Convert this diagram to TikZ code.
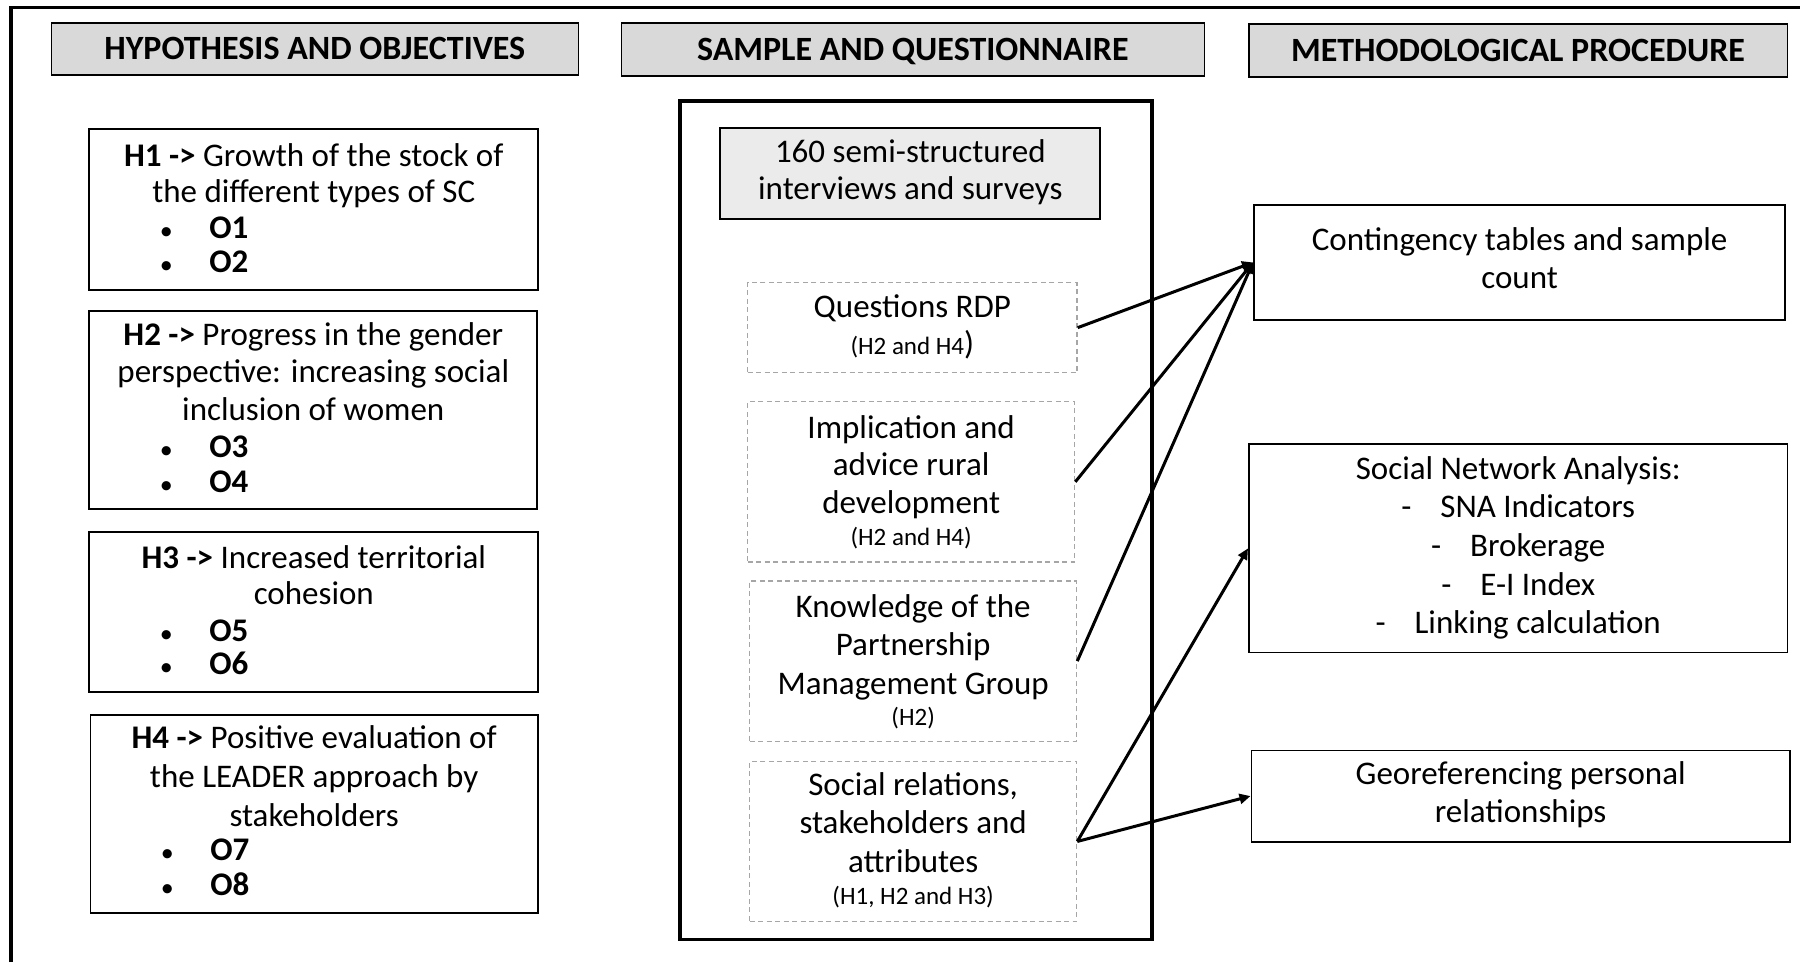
\documentclass[tikz,border=0pt]{standalone}
\usepackage{fontspec}
\setmainfont{Carlito}
\usetikzlibrary{arrows.meta}

\definecolor{hdrgray}{HTML}{D9D9D9}
\definecolor{boxgray}{HTML}{EBEBEB}
\definecolor{dashgray}{HTML}{A6A6A6}

% vertical struts fixing the first baseline and the space under the last line
\newcommand\topgap[1]{\rule{0pt}{#1}}
\newcommand\botgap[1]{\rule[-#1]{0pt}{0pt}}
% bulleted objective line, left aligned inside a centred box
\newcommand\objline[1]{\makebox[\linewidth][l]{\hspace*{77pt}\makebox[0pt]{\raisebox{-1pt}{\fontsize{26}{26}\selectfont\textbullet}}\hspace*{43pt}\textbf{#1}}}
% indented item of the network analysis list
\newcommand\snaline[1]{-\hspace{29pt}#1}
% smaller type for the hypothesis references
\newcommand\hsmall{\fontsize{25}{27}\selectfont}

\begin{document}
\setlength{\lineskiplimit}{-100pt}
\begin{tikzpicture}[
  x=1pt, y=-1pt,
  body/.style={font=\fontsize{33}{37}\selectfont,
    inner sep=0pt, align=flush center, anchor=north west},
  header/.style={draw, line width=1.6pt, fill=hdrgray, anchor=north west, inner sep=0pt,
    font=\fontsize{34}{38}\selectfont\bfseries, text height=21.5pt, text depth=0pt},
  hypbox/.style={body, draw, line width=1.8pt},
  qbox/.style={body, draw=dashgray, line width=1.3pt, dash pattern=on 5pt off 3.5pt},
  procbox/.style={body, draw, line width=1.8pt},
  link/.style={line width=3pt, -{Triangle[length=11pt,width=10pt]}}
]
\useasboundingbox (0,0) rectangle (1800,962);

% open outer frame (top and left edges)
\draw[line width=3.3pt] (11,962) -- (11,7.3) -- (1800,7.3);

% column headers
\node[header, minimum width=527pt, minimum height=52pt] (hdrA) at (50.5,22) {HYPOTHESIS AND OBJECTIVES};
\node[header, minimum width=583pt, minimum height=53pt] (hdrB) at (620.5,22) {SAMPLE AND QUESTIONNAIRE};
\node[header, minimum width=538.5pt, minimum height=53pt] (hdrC) at (1248,23) {METHODOLOGICAL PROCEDURE};

% hypotheses and objectives
\node[hypbox, text width=449pt] (h1) at (88.4,128)
  {\topgap{38pt}\textbf{H1 ->} Growth of the stock of\\[-1pt]the different types of SC\\[-1pt]\objline{O1}\\[-3pt]\objline{O2}\botgap{17pt}};
\node[hypbox, text width=448pt] (h2) at (88.4,310)
  {\topgap{35pt}\textbf{H2 ->} Progress in the gender\\perspective: increasing social\\[1pt]inclusion of women\\\objline{O3}\\[-2pt]\objline{O4}\botgap{16pt}};
\node[hypbox, text width=449pt] (h3) at (88.4,531)
  {\topgap{37pt}\textbf{H3 ->} Increased territorial\\[-1pt]cohesion\\\objline{O5}\\[-4pt]\objline{O6}\botgap{17pt}};
\node[hypbox, text width=447.5pt] (h4) at (89.5,714)
  {\topgap{34pt}\textbf{H4 ->} Positive evaluation of\\[2pt]the LEADER approach by\\[2pt]stakeholders\\[-3pt]\objline{O7}\\[-2pt]\objline{O8}\botgap{17pt}};

% sample and questionnaire
\node[draw, line width=3.5pt, anchor=north west, inner sep=0pt, minimum width=472pt, minimum height=838.6pt] (sample) at (678,99) {};
\node[body, draw, line width=1.8pt, fill=boxgray, text width=380pt] (survey) at (719.4,127)
  {\topgap{35pt}160 semi-structured\\interviews and surveys\botgap{19pt}};
\node[qbox, text width=329.4pt] (qrdp) at (747,282)
  {\topgap{35pt}Questions RDP\\{\hsmall (H2 and H4}{)}\botgap{18pt}};
\node[qbox, text width=327pt] (qimp) at (747,401)
  {\topgap{36.9pt}Implication and\\[-0.3pt]advice rural\\[0.8pt]development\\[-4.7pt]{\hsmall (H2 and H4)}\botgap{16.7pt}};
\node[qbox, text width=327pt] (qknow) at (749,580.3)
  {\topgap{36.7pt}Knowledge of the\\[1pt]Partnership\\[1.9pt]Management Group\\[-5.9pt]{\hsmall (H2)}\botgap{15.6pt}};
\node[qbox, text width=327pt] (qsoc) at (749,760.6)
  {\topgap{34.4pt}Social relations,\\[1pt]stakeholders and\\[2pt]attributes\\[-5pt]{\hsmall (H1, H2 and H3)}\botgap{17pt}};

% methodological procedure
\node[procbox, text width=531.4pt] (cont) at (1253,204)
  {\topgap{46pt}Contingency tables and sample\\[1pt]count\botgap{31pt}};
\node[procbox, text width=538.6pt] (sna) at (1248,443.4)
  {\topgap{35.6pt}Social Network Analysis:\\[1pt]\snaline{SNA Indicators}\\[1.9pt]\snaline{Brokerage}\\[1.9pt]\snaline{E-I Index}\\[0.8pt]\snaline{Linking calculation}\botgap{19pt}};
\node[procbox, text width=538.5pt] (geo) at (1250.5,749.5)
  {\topgap{34.5pt}Georeferencing personal\\[0.8pt]relationships\botgap{19pt}};

% links from questionnaire blocks to procedures
\draw[link] (qrdp.east) -- (cont.west);
\draw[link] (qimp.east) -- (cont.west);
\draw[link] (qknow.east) -- (cont.west);
\draw[link] (qsoc.east) -- (sna.west);
\draw[link] (qsoc.east) -- (geo.west);
\end{tikzpicture}
\end{document}
